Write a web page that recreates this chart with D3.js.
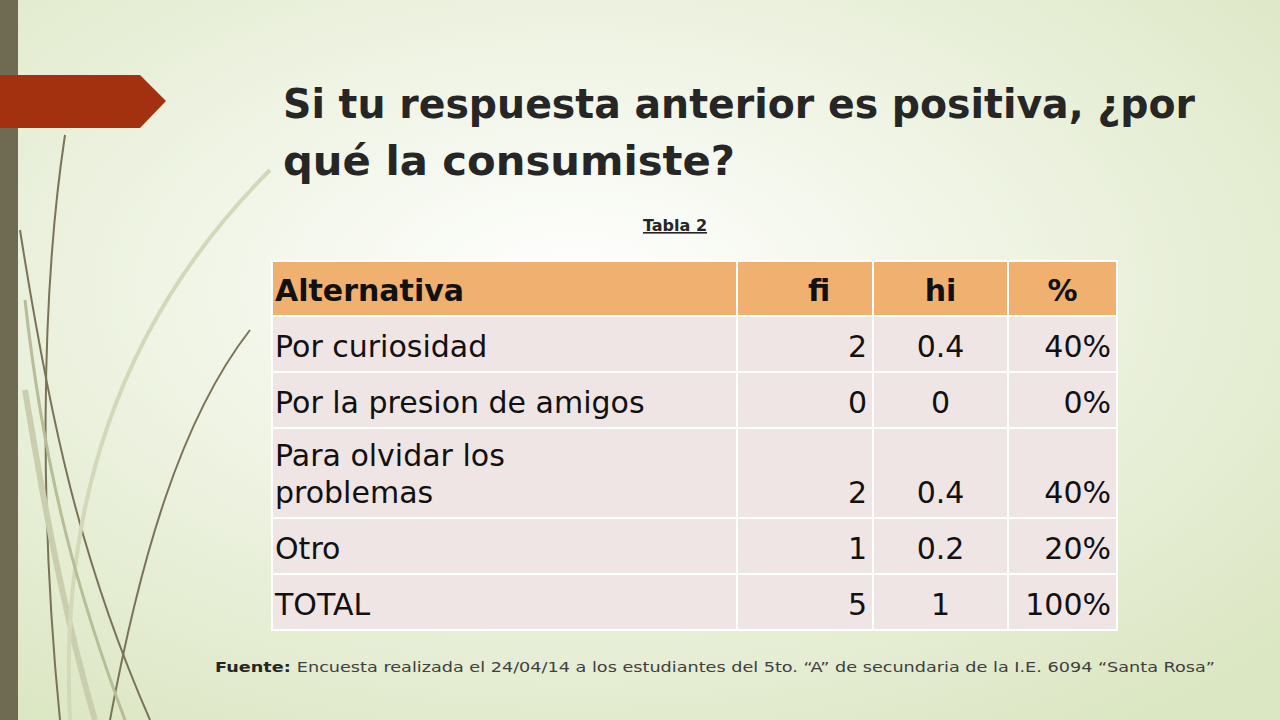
<!DOCTYPE html>
<html><head><meta charset="utf-8">
<script src="https://cdn.jsdelivr.net/npm/d3@7"></script>
<style>body{margin:0;overflow:hidden}</style>
</head><body>
<svg id="c" width="1280" height="720"></svg>
<script>
const headers = ["Alternativa", "fi", "hi", "%"];
const alternativas = [["Por curiosidad"], ["Por la presion de amigos"], ["Para olvidar los", "problemas"], ["Otro"], ["TOTAL"]];
const fi = ["2", "0", "2", "1", "5"];
const hi = ["0.4", "0", "0.4", "0.2", "1"];
const pct = ["40%", "0%", "40%", "20%", "100%"];
const rowHeights = [55, 56, 56, 90, 56, 56];

const svg = d3.select("#c");
const defs = svg.append("defs");
const g = defs.append("radialGradient").attr("id", "bg").attr("cx", "0.45").attr("cy", "0.4").attr("r", "0.75");
g.append("stop").attr("offset", "0").attr("stop-color", "#ffffff");
g.append("stop").attr("offset", "1").attr("stop-color", "#dbe6c2");
svg.append("rect").attr("width", 1280).attr("height", 720).attr("fill", "url(#bg)");

// decorative curves
const curves = [
  ["M60,720 C40,520 40,300 65,135", "#7a7358", 2],
  ["M150,720 C80,560 50,420 20,230", "#7a7358", 2],
  ["M110,720 C140,560 180,420 250,330", "#7a7358", 2],
  ["M95,720 C60,600 40,480 25,390", "#c9cfae", 6],
  ["M70,720 C60,520 110,330 270,170", "#d3d9b8", 4],
  ["M125,720 C80,600 45,480 25,300", "#b7bd96", 3]
];
svg.selectAll("path.deco").data(curves).join("path").attr("class", "deco")
  .attr("d", d => d[0]).attr("fill", "none").attr("stroke", d => d[1]).attr("stroke-width", d => d[2]);

svg.append("rect").attr("width", 18).attr("height", 720).attr("fill", "#6f6b52");
svg.append("path").attr("d", "M0,75 L140,75 L166,101 L140,128 L0,128 Z").attr("fill", "#a3300f");

const title = svg.append("text").attr("x", 283).attr("font-family", "DejaVu Sans, sans-serif")
  .attr("font-weight", "bold").attr("font-size", 41).attr("fill", "#262626");
title.append("tspan").attr("x", 283).attr("y", 118).attr("textLength", 912).attr("lengthAdjust", "spacingAndGlyphs")
  .text("Si tu respuesta anterior es positiva, ¿por");
title.append("tspan").attr("x", 283).attr("y", 175).attr("textLength", 452).attr("lengthAdjust", "spacingAndGlyphs")
  .text("qué la consumiste?");

svg.append("text").attr("x", 675).attr("y", 231).attr("text-anchor", "middle")
  .attr("font-family", "DejaVu Sans, sans-serif").attr("font-weight", "bold").attr("font-size", 16)
  .attr("text-decoration", "underline").attr("fill", "#262626").text("Tabla 2");

// table
const colEdges = [272, 737, 873, 1008, 1117];
const rowEdges = [261];
rowHeights.forEach(h => rowEdges.push(rowEdges[rowEdges.length - 1] + h));
const rows = [headers.map(h => [h])].concat(alternativas.map((a, i) => [a, [fi[i]], [hi[i]], [pct[i]]]));

const t = svg.append("g").attr("font-family", "DejaVu Sans, sans-serif").attr("font-size", 30).attr("fill", "#111");
rows.forEach((r, ri) => {
  const y0 = rowEdges[ri], y1 = rowEdges[ri + 1];
  r.forEach((lines, ci) => {
    const x0 = colEdges[ci], x1 = colEdges[ci + 1];
    t.append("rect").attr("x", x0).attr("y", y0).attr("width", x1 - x0).attr("height", y1 - y0)
      .attr("fill", ri === 0 ? "#f0b070" : "#efe5e4").attr("stroke", "#fff").attr("stroke-width", 2);
    const isHead = ri === 0;
    const anchor = ci === 0 ? "start" : (isHead || ci === 2) ? "middle" : "end";
    const tx = anchor === "start" ? x0 + 3 : anchor === "middle" ? (x0 + x1) / 2 + (isHead && ci === 1 ? 14 : 0) : x1 - 6;
    const n = lines.length;
    lines.forEach((s, li) => {
      t.append("text").attr("x", tx).attr("y", y1 - 15 - (n - 1 - li) * 37)
        .attr("text-anchor", anchor).attr("font-weight", isHead ? "bold" : "normal")
        .text(s);
    });
  });
});

const f = svg.append("text").attr("x", 215).attr("y", 672).attr("font-family", "DejaVu Sans, sans-serif")
  .attr("font-size", 14).attr("fill", "#404040")
  .attr("textLength", 1000).attr("lengthAdjust", "spacingAndGlyphs");
f.append("tspan").attr("font-weight", "bold").attr("fill", "#262626").text("Fuente: ");
f.append("tspan").text("Encuesta realizada el 24/04/14 a los estudiantes del 5to. “A” de secundaria de la I.E. 6094 “Santa Rosa”");
</script>
</body></html>
